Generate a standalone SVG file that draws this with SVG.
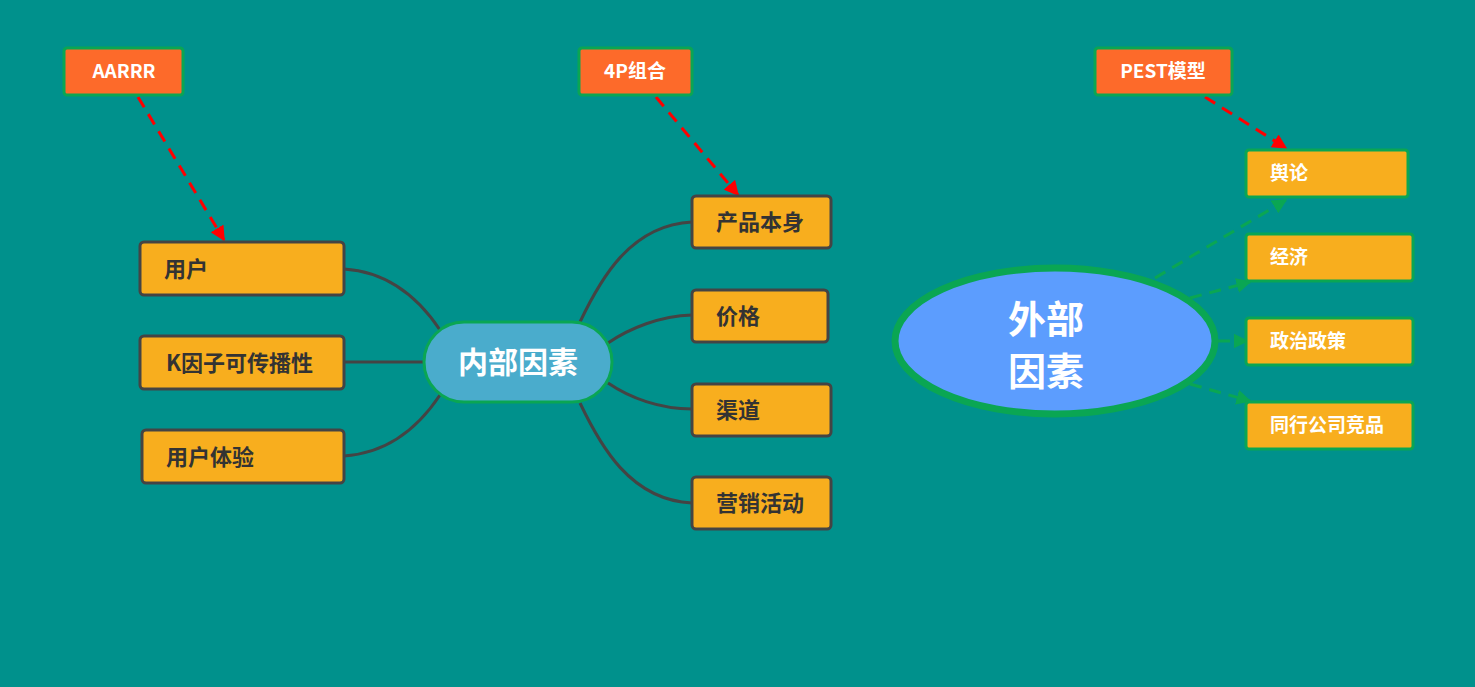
<svg xmlns="http://www.w3.org/2000/svg" width="1475" height="687" viewBox="0 0 1475 687">
<style>
.bg{fill:#00918c}
.n{fill:#f8ae1e;stroke:#444;stroke-width:3}
.g{fill:#f8ae1e;stroke:#0aa653;stroke-width:3}
.o{fill:#fd6a2a;stroke:#0aa653;stroke-width:3}
.t{font-family:"Noto Sans CJK SC","Liberation Sans",sans-serif;font-weight:bold;font-size:22px;fill:#333}
.w{font-family:"Noto Sans CJK SC","Liberation Sans",sans-serif;font-weight:bold;font-size:19px;fill:#fff}
.c{fill:none;stroke:#444;stroke-width:3}
.r{fill:none;stroke:#f00;stroke-width:3;stroke-dasharray:12 8}
.gd{fill:none;stroke:#0aa653;stroke-width:3;stroke-dasharray:12 8}
</style>
<defs>
<marker id="ar" viewBox="0 0 10 10" refX="9" refY="5" markerWidth="5" markerHeight="5" orient="auto"><path d="M0 0L10 5L0 10z" fill="#f00"/></marker>
<marker id="ag" viewBox="0 0 10 10" refX="9" refY="5" markerWidth="5" markerHeight="5" orient="auto"><path d="M0 0L10 5L0 10z" fill="#0aa653"/></marker>
</defs>
<rect class="bg" width="1475" height="687"/>
<g id="connectors">
<path class="c" d="M344 269C390 272 420 300 440 330"/>
<path class="c" d="M344 362H424"/>
<path class="c" d="M344 456C390 453 420 425 440 395"/>
<path class="c" d="M580 322C600 280 630 225 692 222"/>
<path class="c" d="M608 343C630 328 660 316 692 315"/>
<path class="c" d="M608 383C630 398 660 409 692 409"/>
<path class="c" d="M580 403C600 445 630 500 692 503"/>
<path class="r" d="M138 97L224 240" marker-end="url(#ar)"/>
<path class="r" d="M656 97L738 195" marker-end="url(#ar)"/>
<path class="r" d="M1205 97L1286 148" marker-end="url(#ar)"/>
<path class="gd" d="M1155 278L1286 200" marker-end="url(#ag)"/>
<path class="gd" d="M1190 298L1250 282" marker-end="url(#ag)"/>
<path class="gd" d="M1218 341H1247" marker-end="url(#ag)"/>
<path class="gd" d="M1190 384L1250 401" marker-end="url(#ag)"/>
</g>
<g id="aarrr"><rect class="o" x="64" y="48" width="119" height="47" rx="3"/><text class="w" x="124" y="78" text-anchor="middle">AARRR</text></g>
<g id="p4"><rect class="o" x="579" y="48" width="113" height="47" rx="3"/><text class="w" x="635" y="78" text-anchor="middle">4P组合</text></g>
<g id="pest"><rect class="o" x="1095" y="48" width="137" height="47" rx="3"/><text class="w" x="1163" y="78" text-anchor="middle">PEST模型</text></g>
<g id="yonghu"><rect class="n" x="140" y="242" width="204" height="53" rx="4"/><text class="t" x="164" y="277">用户</text></g>
<g id="kyinzi"><rect class="n" x="140" y="336" width="204" height="53" rx="4"/><text class="t" x="166" y="371">K因子可传播性</text></g>
<g id="tiyan"><rect class="n" x="142" y="430" width="202" height="53" rx="4"/><text class="t" x="166" y="465">用户体验</text></g>
<g id="neibu"><rect x="424" y="322" width="188" height="80" rx="40" fill="#4aaccc" stroke="#0aa653" stroke-width="3"/><text x="518" y="373" text-anchor="middle" style="font-family:'Noto Sans CJK SC',sans-serif;font-weight:bold;font-size:30px;fill:#fff">内部因素</text></g>
<g id="chanpin"><rect class="n" x="692" y="196" width="139" height="52" rx="4"/><text class="t" x="716" y="230">产品本身</text></g>
<g id="jiage"><rect class="n" x="692" y="290" width="136" height="52" rx="4"/><text class="t" x="716" y="324">价格</text></g>
<g id="qudao"><rect class="n" x="692" y="384" width="139" height="52" rx="4"/><text class="t" x="716" y="418">渠道</text></g>
<g id="yingxiao"><rect class="n" x="692" y="477" width="139" height="52" rx="4"/><text class="t" x="716" y="511">营销活动</text></g>
<g id="waibu"><ellipse cx="1055" cy="341" rx="160" ry="73" fill="#5c9dfe" stroke="#0aa653" stroke-width="7"/><text x="1046" y="333" text-anchor="middle" style="font-family:'Noto Sans CJK SC',sans-serif;font-weight:bold;font-size:38px;fill:#fff">外部</text><text x="1046" y="385" text-anchor="middle" style="font-family:'Noto Sans CJK SC',sans-serif;font-weight:bold;font-size:38px;fill:#fff">因素</text></g>
<g id="yulun"><rect class="g" x="1246" y="150" width="162" height="47" rx="3"/><text class="w" x="1270" y="180">舆论</text></g>
<g id="jingji"><rect class="g" x="1246" y="234" width="167" height="47" rx="3"/><text class="w" x="1270" y="264">经济</text></g>
<g id="zhengzhi"><rect class="g" x="1246" y="318" width="167" height="47" rx="3"/><text class="w" x="1270" y="348">政治政策</text></g>
<g id="tonghang"><rect class="g" x="1246" y="402" width="167" height="47" rx="3"/><text class="w" x="1270" y="432">同行公司竞品</text></g>
</svg>
